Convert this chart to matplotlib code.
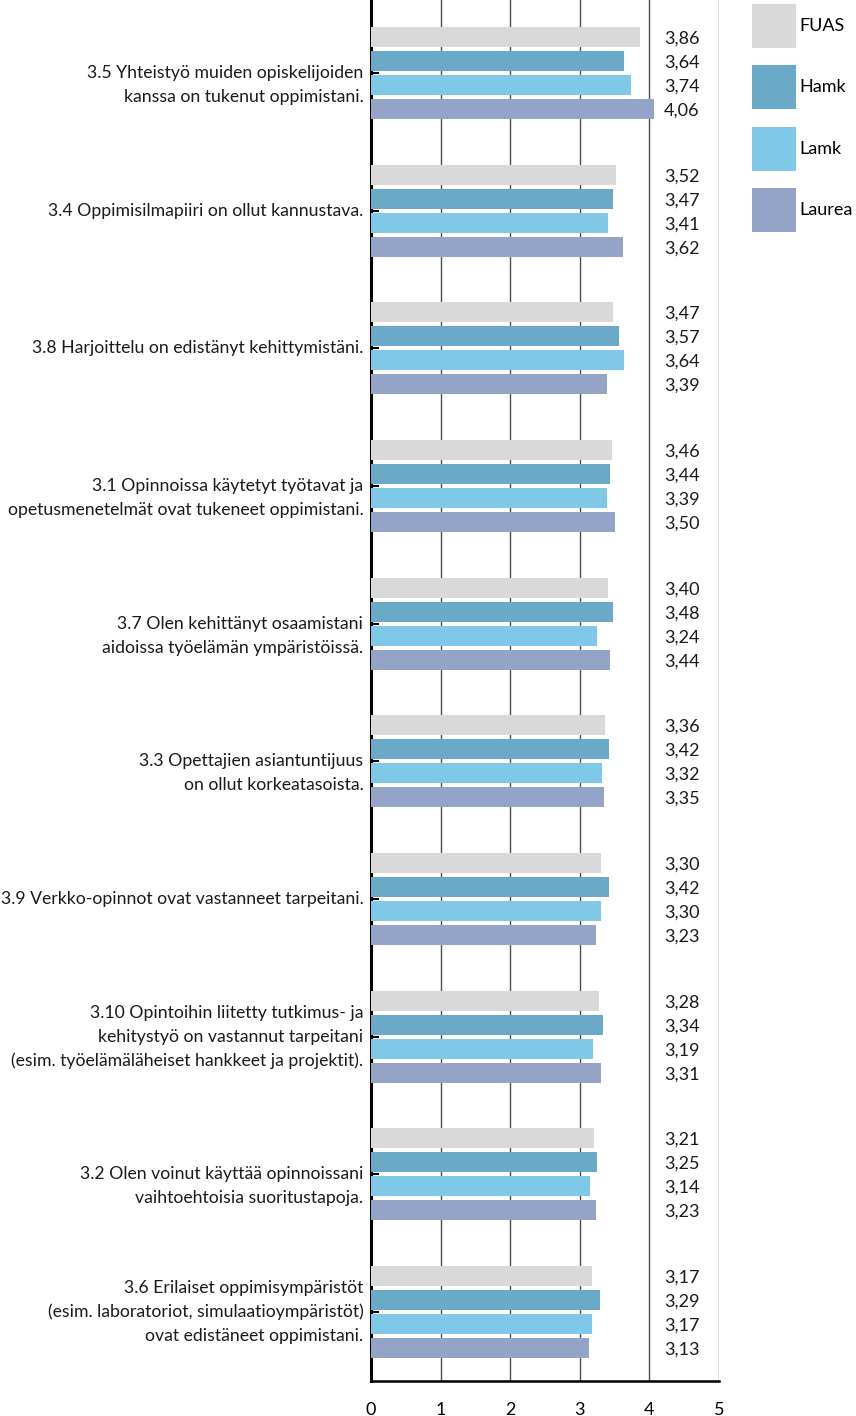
import numpy as np
import matplotlib
matplotlib.use('Agg')
import matplotlib.pyplot as plt

plt.rcParams['font.family'] = ['Lato', 'DejaVu Sans']

kysymykset = [
    "3.5 Yhteistyö muiden opiskelijoiden\nkanssa on tukenut oppimistani.",
    "3.4 Oppimisilmapiiri on ollut kannustava.",
    "3.8 Harjoittelu on edistänyt kehittymistäni.",
    "3.1 Opinnoissa käytetyt työtavat ja\nopetusmenetelmät ovat tukeneet oppimistani.",
    "3.7 Olen kehittänyt osaamistani\naidoissa työelämän ympäristöissä.",
    "3.3 Opettajien asiantuntijuus\non ollut korkeatasoista.",
    "3.9 Verkko-opinnot ovat vastanneet tarpeitani.",
    "3.10 Opintoihin liitetty tutkimus- ja\nkehitystyö on vastannut tarpeitani\n(esim. työelämäläheiset hankkeet ja projektit).",
    "3.2 Olen voinut käyttää opinnoissani\nvaihtoehtoisia suoritustapoja.",
    "3.6 Erilaiset oppimisympäristöt\n(esim. laboratoriot, simulaatioympäristöt)\novat edistäneet oppimistani.",
]

sarjat = ["FUAS", "Hamk", "Lamk", "Laurea"]
fuas = [3.86, 3.52, 3.47, 3.46, 3.40, 3.36, 3.30, 3.28, 3.21, 3.17]
hamk = [3.64, 3.47, 3.57, 3.44, 3.48, 3.42, 3.42, 3.34, 3.25, 3.29]
lamk = [3.74, 3.41, 3.64, 3.39, 3.24, 3.32, 3.30, 3.19, 3.14, 3.17]
laurea = [4.06, 3.62, 3.39, 3.50, 3.44, 3.35, 3.23, 3.31, 3.23, 3.13]
varit = ["#d9d9d9", "#6aa9c7", "#80c8e8", "#94a4c7"]

arvot = [fuas, hamk, lamk, laurea]

fig = plt.figure(figsize=(8.56, 14.16), dpi=100)
ax = fig.add_axes([371/856, 35/1416, 348/856, 1381/1416])

y = np.arange(len(kysymykset))
vali = 0.1743   # palkkien etaisyys
korkeus = 0.145

for i, (nimi, data, vari) in enumerate(zip(sarjat, arvot, varit)):
    pos = y + (i - 1.5) * vali
    ax.barh(pos, data, height=korkeus, color=vari, label=nimi, zorder=3)
    for yy, v in zip(pos, data):
        ax.text(4.21, yy + 0.012, f"{v:.2f}".replace('.', ','), ha='left', va='center',
                fontsize=13, color='#1a1a1a')

# kysymysten tekstit
for k, teksti in enumerate(kysymykset):
    rivit = teksti.split("\n")
    alku = -((len(rivit) - 1) // 2) * vali
    for j, rivi in enumerate(rivit):
        ax.text(-0.022, k + alku + j * vali, rivi, ha='right', va='center',
                fontsize=12.7, color='#1a1a1a', transform=ax.get_yaxis_transform())

ax.set_xlim(0, 5)
ax.set_ylim(9.5, -0.53)
ax.set_xticks([0, 1, 2, 3, 4, 5])
ax.set_yticks(y)
ax.set_yticklabels([])
ax.tick_params(axis='y', direction='in', length=6, width=1.5, color='black')
ax.tick_params(axis='x', length=0, pad=15, labelsize=13)
ax.grid(axis='x', color='#4d4d4d', linewidth=1.0, zorder=0)
ax.set_axisbelow(True)

ax.spines['top'].set_visible(False)
ax.spines['right'].set_visible(False)
ax.spines['left'].set_linewidth(2.2)
ax.spines['bottom'].set_linewidth(1.8)

fig.legend(loc='upper left', bbox_to_anchor=(752/856, 1 - 4/1416), frameon=False,
           fontsize=13, handlelength=2.44, handleheight=3.374, labelspacing=0.96,
           handletextpad=0.2, borderpad=0, borderaxespad=0)

fig.savefig("out.png", dpi=100)
